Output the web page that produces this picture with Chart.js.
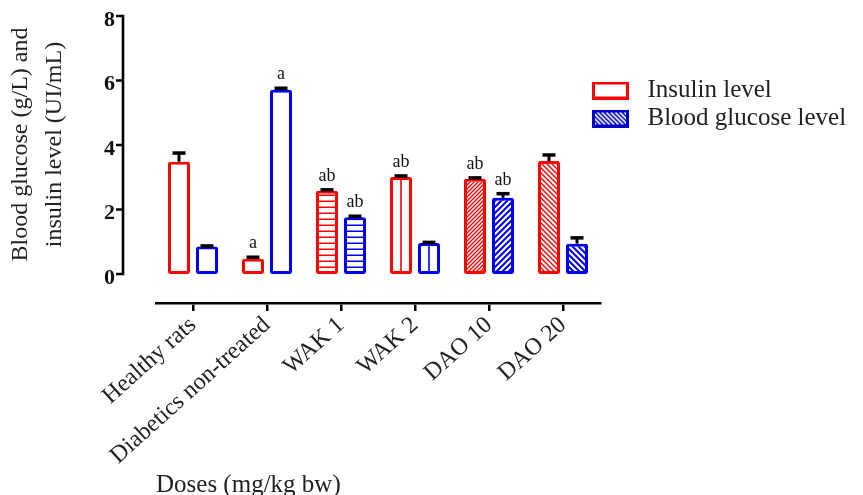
<!DOCTYPE html>
<html><head><meta charset="utf-8">
<script src="https://cdn.jsdelivr.net/npm/chart.js@4.4.1/dist/chart.umd.min.js"></script>
<style>html,body{margin:0;padding:0;background:#fff;}canvas{display:block;}</style>
</head><body>
<canvas id="c" width="863" height="495"></canvas>
<script>
// ---- data ----
const categories = ['Healthy rats', 'Diabetics non-treated', 'WAK 1', 'WAK 2', 'DAO 10', 'DAO 20'];
const insulin = [3.48, 0.47, 2.58, 3.01, 2.95, 3.50];
const insulinErr = [0.27, 0.05, 0.03, 0.03, 0.03, 0.19];
const glucose = [0.85, 5.71, 1.76, 0.96, 2.36, 0.94];
const glucoseErr = [0.02, 0.05, 0.03, 0.02, 0.13, 0.18];
const insulinLetters = ['', 'a', 'ab', 'ab', 'ab', ''];
const glucoseLetters = ['', 'a', 'ab', '', 'ab', ''];
const yTicks = [0, 2, 4, 6, 8];

// ---- styles ----
const RED = '#ff0000', BLUE = '#0000f0';
const SERIF = "'Liberation Serif', 'Times New Roman', serif";
const fillKinds = ['plain', 'plain', 'hlines', 'vline', 'fwd', 'back'];

const canvas = document.getElementById('c');
const mainCtx = canvas.getContext('2d');

function makeTile(kind, color, isBlue) {
  const t = document.createElement('canvas');
  let w = 6, h = 6;
  if (kind === 'hlines') { w = 4; h = 6; }
  if (kind === 'vline') { w = 22; h = 4; }
  if (kind === 'fwd') { w = h = isBlue ? 6 : 4; }
  if (kind === 'back') { w = h = isBlue ? 6 : 5; }
  t.width = w; t.height = h;
  const c = t.getContext('2d');
  c.fillStyle = '#fff'; c.fillRect(0, 0, w, h);
  c.strokeStyle = color; c.fillStyle = color;
  c.lineWidth = isBlue ? 2 : 1.4;
  if (kind === 'hlines') { c.fillRect(0, 2.5, w, 1.5); }
  else if (kind === 'vline') { c.fillRect(10.2, 0, 1.6, h); }
  else if (kind === 'fwd') {
    c.beginPath();
    c.moveTo(0, h); c.lineTo(w, 0);
    c.moveTo(-1, 1); c.lineTo(1, -1);
    c.moveTo(w - 1, h + 1); c.lineTo(w + 1, h - 1);
    c.stroke();
  } else if (kind === 'back') {
    c.beginPath();
    c.moveTo(0, 0); c.lineTo(w, h);
    c.moveTo(-1, h - 1); c.lineTo(1, h + 1);
    c.moveTo(w - 1, -1); c.lineTo(w + 1, 1);
    c.stroke();
  }
  return t;
}
function fillsFor(color, isBlue) {
  return fillKinds.map(k => k === 'plain' ? '#ffffff' : mainCtx.createPattern(makeTile(k, color, isBlue), 'repeat'));
}

function legendIcon(kind) {
  const t = document.createElement('canvas');
  t.width = 37; t.height = 18;
  const c = t.getContext('2d');
  if (kind === 'red') {
    c.fillStyle = RED; c.fillRect(0, 0, 37, 18);
    c.fillStyle = '#fff'; c.fillRect(3, 3, 31, 12);
  } else {
    c.fillStyle = '#0000c8'; c.fillRect(0, 0, 37, 18);
    c.save();
    c.beginPath(); c.rect(3, 3, 31, 12); c.clip();
    c.strokeStyle = '#fff'; c.lineWidth = 1.6;
    c.beginPath();
    for (let x = -20; x < 45; x += 4.5) { c.moveTo(x, 0); c.lineTo(x + 18, 18); }
    c.stroke();
    c.restore();
  }
  return t;
}
const legendIcons = [legendIcon('red'), legendIcon('blue')];

// align patterns to each bar
const patternAlign = {
  id: 'patternAlign',
  beforeDatasetsDraw(chart) {
    chart.data.datasets.forEach((ds, di) => {
      chart.getDatasetMeta(di).data.forEach(el => {
        const bg = el.options.backgroundColor;
        if (bg && typeof bg === 'object' && bg.setTransform) {
          bg.setTransform(new DOMMatrix([1, 0, 0, 1, Math.round(el.x - el.width / 2), 0]));
        }
      });
    });
  }
};

// error bars + significance letters
const errorBars = {
  id: 'errorBars',
  afterDatasetsDraw(chart) {
    const ctx = chart.ctx, y = chart.scales.y;
    chart.data.datasets.forEach((ds, di) => {
      chart.getDatasetMeta(di).data.forEach((el, i) => {
        const top = y.getPixelForValue(ds.data[i] + ds.errors[i]);
        ctx.save();
        ctx.strokeStyle = '#000';
        ctx.lineWidth = 3;
        ctx.beginPath(); ctx.moveTo(el.x, el.y); ctx.lineTo(el.x, top); ctx.stroke();
        ctx.lineWidth = 3.5;
        ctx.beginPath(); ctx.moveTo(el.x - 6.5, top); ctx.lineTo(el.x + 6.5, top); ctx.stroke();
        const txt = ds.letters[i];
        if (txt) {
          ctx.fillStyle = '#111';
          ctx.font = '18px ' + SERIF;
          ctx.textAlign = 'center';
          ctx.textBaseline = 'alphabetic';
          ctx.fillText(txt, el.x, top - 9);
        }
        ctx.restore();
      });
    });
  }
};

// detached y axis line with tick marks (Prism style)
const yAxisLine = {
  id: 'yAxisLine',
  afterDraw(chart) {
    const ctx = chart.ctx, y = chart.scales.y;
    const x = 123;
    ctx.save();
    ctx.strokeStyle = '#000';
    ctx.lineWidth = 2.6;
    ctx.beginPath();
    ctx.moveTo(x, y.getPixelForValue(yTicks[yTicks.length - 1]) - 1.3);
    ctx.lineTo(x, y.getPixelForValue(yTicks[0]) + 1.3);
    yTicks.forEach(v => {
      const p = y.getPixelForValue(v);
      ctx.moveTo(x, p); ctx.lineTo(x - 7, p);
    });
    ctx.stroke();
    ctx.restore();
  }
};

// place the legend where it sits in the reference
const legendPlace = {
  id: 'legendPlace',
  afterLayout(chart) {
    const lg = chart.legend;
    if (lg) { lg.left = 583; lg.top = 75; lg.right = 863; lg.bottom = 495; lg.width = 280; lg.height = 420; }
  }
};

new Chart(canvas, {
  type: 'bar',
  data: {
    labels: categories,
    datasets: [
      {
        label: 'Insulin level', data: insulin, errors: insulinErr, letters: insulinLetters,
        backgroundColor: fillsFor(RED, false), borderColor: RED, borderWidth: 3,
        borderSkipped: false, borderRadius: 2,
        categoryPercentage: 0.757, barPercentage: 0.786
      },
      {
        label: 'Blood glucose level', data: glucose, errors: glucoseErr, letters: glucoseLetters,
        backgroundColor: fillsFor(BLUE, true), borderColor: BLUE, borderWidth: 3,
        borderSkipped: false, borderRadius: 2,
        categoryPercentage: 0.757, barPercentage: 0.786
      }
    ]
  },
  options: {
    responsive: false,
    animation: false,
    devicePixelRatio: 1,
    events: [],
    layout: { padding: { top: 16, right: 262, bottom: 0, left: 0 } },
    plugins: {
      tooltip: { enabled: false },
      legend: {
        position: 'right',
        align: 'start',
        maxWidth: 1,
        labels: {
          usePointStyle: true,
          pointStyleWidth: 49,
          padding: 3,
          color: '#222',
          font: { family: SERIF, size: 25 },
          generateLabels(chart) {
            const items = Chart.defaults.plugins.legend.labels.generateLabels(chart);
            items.forEach((it, i) => { it.pointStyle = legendIcons[i]; });
            return items;
          }
        }
      }
    },
    scales: {
      x: {
        offset: true,
        grid: {
          display: true, drawOnChartArea: false, drawTicks: true, tickLength: 8,
          offset: false, color: '#000', tickColor: '#000', tickWidth: 2.5, lineWidth: 2.5
        },
        border: { display: true, color: '#000', width: 2.6 },
        ticks: {
          minRotation: 42, maxRotation: 42, autoSkip: false, padding: 0,
          color: '#222', font: { family: SERIF, size: 24 }
        },
        title: {
          display: true, text: 'Doses (mg/kg bw)', align: 'start',
          color: '#222', font: { family: SERIF, size: 25, lineHeight: 0.8 }, padding: 0
        },
        afterFit(scale) { scale.height = 192; }
      },
      y: {
        min: -0.9, max: 8,
        afterBuildTicks(scale) { scale.ticks = yTicks.map(v => ({ value: v })); },
        grid: { display: false, drawTicks: true, tickLength: 41 },
        border: { display: false },
        ticks: {
          padding: 0, labelOffset: 4,
          color: '#111', font: { family: SERIF, size: 22, weight: 'bold' }
        },
        title: {
          display: true,
          text: ['     Blood glucose (g/L) and', '     insulin level (UI/mL)'],
          color: '#222', font: { family: SERIF, size: 24, lineHeight: '34px' },
          padding: { top: 4, bottom: 0 }
        },
        afterFit(scale) { scale.width = 156; }
      }
    }
  },
  plugins: [patternAlign, errorBars, yAxisLine, legendPlace]
});
</script>
</body></html>
